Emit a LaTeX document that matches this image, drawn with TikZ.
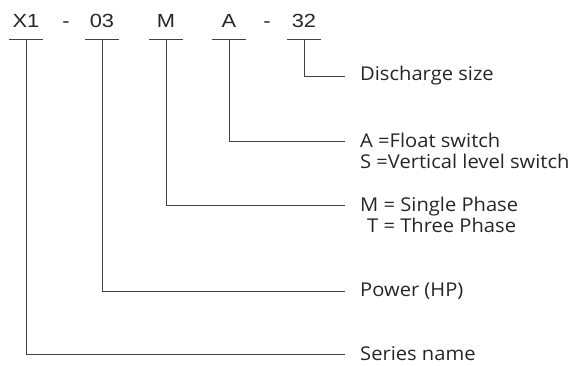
\documentclass[tikz,border=0pt]{standalone}
\usepackage{fontspec}
\setmainfont{Open Sans}[FakeStretch=1.06]
\newfontfamily\codefont{Liberation Sans}[FakeStretch=1.15]
\usetikzlibrary{positioning}
\tikzset{
  code/.style={anchor=base, inner sep=0pt, minimum width=34pt,
    font=\codefont\fontsize{19}{23}\selectfont, text=black!85},
  lab/.style={inner sep=0pt, align=left,
    font=\fontsize{19}{21}\selectfont, text=black!85},
  rule/.style={draw=black!75, line width=0.9pt},
}
\begin{document}
\begin{tikzpicture}[x=1pt,y=-1pt]
  \useasboundingbox (0,0) rectangle (581,365);
  % part number
  \node[code] (x1) at (26,27) {X1};
  \node[code,minimum width=0pt] (d1) at (66,27) {-};
  \node[code] (hp) at (102,27) {03};
  \node[code] (ph) at (166,27) {M};
  \node[code] (sw) at (229,27) {A};
  \node[code,minimum width=0pt] (d2) at (267,27) {-};
  \node[code] (ds) at (304,27) {32};
  % bars under each field
  \foreach \n in {x1,hp,ph,sw,ds}
    \draw[rule] ([yshift=-12pt]\n.base west) -- ([yshift=-12pt]\n.base east);
  % ends of the leaders
  \coordinate (ds-in) at (345,76);
  \coordinate (sw-in) at (345,141);
  \coordinate (ph-in) at (345,205);
  \coordinate (hp-in) at (345,291);
  \coordinate (x1-in) at (345,354);
  \foreach \n in {x1,hp,ph,sw,ds}
    \draw[rule] ([yshift=-12pt]\n.base) |- (\n-in);
  % meanings
  \node[lab, right=15pt of ds-in] (size) {Discharge size};
  \node[lab, anchor=base west] (switch) at ([xshift=15pt,yshift=-27.8pt]sw-in)
    {A =Float switch\\S =Vertical level switch};
  \node[lab, anchor=base west] (phase) at ([xshift=15pt,yshift=-27.8pt]ph-in)
    {M = Single Phase\\\hspace*{7pt}T = Three Phase};
  \node[lab, right=15pt of hp-in] (power) {Power (HP)};
  \node[lab, right=15pt of x1-in] (series) {Series name};
\end{tikzpicture}
\end{document}
